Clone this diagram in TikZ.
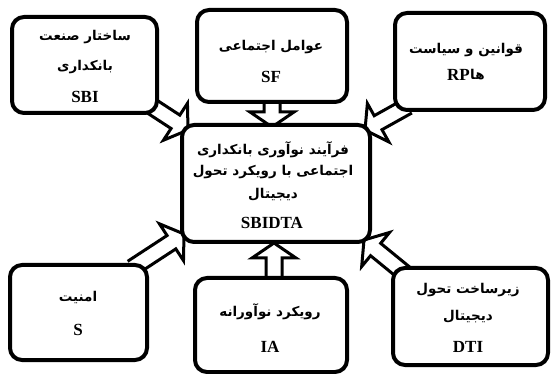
\documentclass[tikz,border=0pt]{standalone}
\usepackage{fontspec}
\setmainfont{Liberation Serif}
\newfontfamily\fa[Script=Arabic]{DejaVu Sans}
\TeXXeTstate=1
\usetikzlibrary{calc}
\tikzset{
  box/.style={draw, line width=4pt, rounded corners=12pt, fill=white, inner sep=0pt},
  fatext/.style={font=\fa\bfseries\fontsize{13.5}{16}\selectfont, inner sep=0pt},
  latext/.style={font=\bfseries\fontsize{17}{19}\selectfont, inner sep=0pt},
  barrowline/.style={draw, line width=3pt, fill=white, line join=miter, miter limit=10}
}
\newcommand\blockarrow[2]{%
  \path ($(#2)!15pt!(#1)$) coordinate (hb);
  \draw[barrowline] ($(#1)!8pt!90:(#2)$) -- ($(hb)!8pt!90:(#2)$) -- ($(hb)!22pt!90:(#2)$) -- (#2)
     -- ($(hb)!22pt!-90:(#2)$) -- ($(hb)!8pt!-90:(#2)$) -- ($(#1)!8pt!-90:(#2)$);
}
\begin{document}
\begin{tikzpicture}[x=1pt,y=-1pt]
\useasboundingbox (0,0) rectangle (552,374);
% box geometry
\coordinate (sbiA) at (12,17);  \coordinate (sbiB) at (157,113);
\coordinate (sfA) at (197,10);  \coordinate (sfB) at (347,102);
\coordinate (rpA) at (395,13);  \coordinate (rpB) at (545,110);
\coordinate (cA) at (182,125);  \coordinate (cB) at (370,242);
\coordinate (sA) at (10,265);   \coordinate (sB) at (147,360);
\coordinate (iaA) at (195,278); \coordinate (iaB) at (347,372);
\coordinate (dtA) at (393,268); \coordinate (dtB) at (548,365);
% arrows (connectors)
\coordinate (a1s) at (142,100); \coordinate (a1e) at (188,130);
\coordinate (a2s) at (272,96);  \coordinate (a2e) at (272,127);
\coordinate (a3s) at (408,106); \coordinate (a3e) at (365,130);
\coordinate (a4s) at (132,268); \coordinate (a4e) at (184,234);
\coordinate (a5s) at (274,285); \coordinate (a5e) at (274,243);
\coordinate (a6s) at (408,276); \coordinate (a6e) at (364,240);
\blockarrow{a1s}{a1e}
\blockarrow{a2s}{a2e}
\blockarrow{a3s}{a3e}
\blockarrow{a4s}{a4e}
\blockarrow{a5s}{a5e}
\blockarrow{a6s}{a6e}
% boxes
\draw[box] (sbiA) rectangle (sbiB);
\draw[box] (sfA) rectangle (sfB);
\draw[box] (rpA) rectangle (rpB);
\draw[box] (cA) rectangle (cB);
\draw[box] (sA) rectangle (sB);
\draw[box] (iaA) rectangle (iaB);
\draw[box] (dtA) rectangle (dtB);
% texts
\node[fatext] (sbi1) at (85,37) {\beginR ساختار صنعت\endR};
\node[fatext] (sbi2) at (85,67) {\beginR بانکداری\endR};
\node[latext] (sbi3) at (85,97) {SBI};
\node[fatext] (sf1) at (271,47) {\beginR عوامل اجتماعی\endR};
\node[latext] (sf2) at (271,77) {SF};
\node[fatext] (rp1) at (466,50) {\beginR قوانین و سیاست\endR};
\node[latext,anchor=east] (rp2) at (470,75) {RP};
\node[fatext,anchor=west] (rp3) at (rp2.east) {\beginR ها\endR};
\node[fatext] (c1) at (273,150) {\beginR فرآیند نوآوری بانکداری\endR};
\node[fatext] (c2) at (273,172) {\beginR اجتماعی با رویکرد تحول\endR};
\node[fatext] (c3) at (273,195) {\beginR دیجیتال\endR};
\node[latext] (c4) at (272,223) {SBIDTA};
\node[fatext] (s1) at (78,297) {\beginR امنیت\endR};
\node[latext] (s2) at (78,330) {S};
\node[fatext] (ia1) at (270,312) {\beginR رویکرد نوآورانه\endR};
\node[latext] (ia2) at (270,347) {IA};
\node[fatext] (dt1) at (468,290) {\beginR زیرساخت تحول\endR};
\node[fatext] (dt2) at (468,317) {\beginR دیجیتال\endR};
\node[latext] (dt3) at (468,347) {DTI};
\end{tikzpicture}
\end{document}
